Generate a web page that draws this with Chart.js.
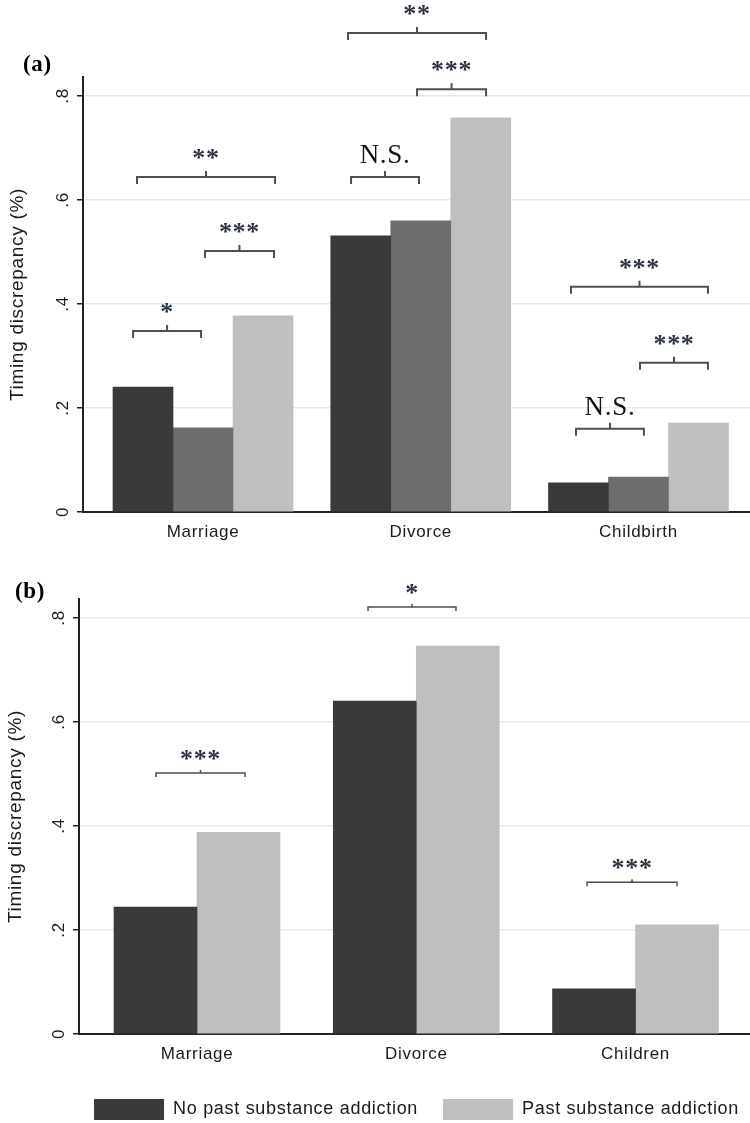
<!DOCTYPE html>
<html>
<head>
<meta charset="utf-8">
<script src="https://cdn.jsdelivr.net/npm/chart.js@4.4.0/dist/chart.umd.min.js"></script>
<style>
  html, body { margin: 0; padding: 0; background: #fff; overflow: hidden; }
  canvas { display: block; }
</style>
</head>
<body>
<canvas id="chartA" width="750" height="560"></canvas>
<canvas id="chartB" width="750" height="570"></canvas>
<script>
// panel (a)
const categoriesA = ["Marriage", "Divorce", "Childbirth"];
const noPastA = [0.240, 0.531, 0.056];
const middleA = [0.162, 0.560, 0.067];
const pastA = [0.377, 0.758, 0.171];

// panel (b)
const categoriesB = ["Marriage", "Divorce", "Children"];
const noPastB = [0.244, 0.640, 0.087];
const pastB = [0.388, 0.746, 0.210];

const yTicks = [0, 0.2, 0.4, 0.6, 0.8];
const yTickLabels = ["0", ".2", ".4", ".6", ".8"];

// significance brackets: [from, to, height, label] in axis units
const bracketsA = [
    [-0.321, -0.009, 0.348, "*"],
    [0.009, 0.326, 0.502, "***"],
    [-0.303, 0.331, 0.644, "**"],
    [0.680, 0.992, 0.644, "N.S."],
    [0.983, 1.300, 0.813, "***"],
    [0.666, 1.300, 0.921, "**"],
    [1.690, 2.319, 0.433, "***"],
    [2.007, 2.319, 0.287, "***"],
    [1.713, 2.025, 0.160, "N.S."]
];
const bracketsB = [
    [-0.187, 0.219, 0.502, "***"],
    [0.780, 1.181, 0.821, "*"],
    [1.779, 2.189, 0.292, "***"]
];

const DARK = "#3a3a3a";
const MID = "#6e6e6e";
const LIGHT = "#bfbfbf";
const TEXT = "#1a1a1a";
const sans = "Liberation Sans";
const serif = "Liberation Serif";

// Stata-ish text is a bit wider than plain Arial
const spacingPlugin = {
    id: "spacing",
    beforeUpdate(chart) {
        chart.ctx.letterSpacing = "0.7px";
    }
};

function toPoints(values) {
    return values.map((v, i) => ({ x: i, y: v }));
}

// rotated y tick labels, brackets with stars and the panel letter
function makeOverlay(panelLabel, brackets, style) {
    return {
        id: "overlay",
        afterDraw(chart) {
            const ctx = chart.ctx;
            const xs = chart.scales.x;
            const ys = chart.scales.y;
            ctx.save();

            ctx.font = `17px "${sans}"`;
            ctx.fillStyle = TEXT;
            ctx.textAlign = "center";
            ctx.textBaseline = "alphabetic";
            ys.ticks.forEach((t, i) => {
                ctx.save();
                ctx.translate(chart.chartArea.left - 15, ys.getPixelForValue(t.value));
                ctx.rotate(-Math.PI / 2);
                ctx.fillText(yTickLabels[i], 0, 0);
                ctx.restore();
            });

            brackets.forEach(b => {
                const x1 = xs.getPixelForValue(b[0]);
                const x2 = xs.getPixelForValue(b[1]);
                const py = ys.getPixelForValue(b[2]);
                const cx = (x1 + x2) / 2;
                ctx.strokeStyle = "#4f4f4f";
                ctx.lineWidth = style.lw;
                ctx.beginPath();
                ctx.moveTo(x1, py + style.drop);
                ctx.lineTo(x1, py);
                ctx.lineTo(x2, py);
                ctx.lineTo(x2, py + style.drop);
                ctx.moveTo(cx, py);
                ctx.lineTo(cx, py - style.tick);
                ctx.stroke();

                if (b[3] === "N.S.") {
                    ctx.font = `27px "${serif}"`;
                    ctx.fillStyle = "#111";
                    ctx.fillText(b[3], cx, py - 14);
                } else {
                    ctx.font = `bold 26px "${serif}"`;
                    ctx.fillStyle = "#2b3242";
                    const m = ctx.measureText("*");
                    const center = py - style.starGap;
                    const base = center + (m.actualBoundingBoxAscent - m.actualBoundingBoxDescent) / 2;
                    ctx.fillText(b[3], cx, base);
                }
            });

            ctx.font = `bold 23px "${serif}"`;
            ctx.fillStyle = "#000";
            ctx.textAlign = "left";
            ctx.fillText(panelLabel, style.labelX, style.labelY);
            ctx.restore();
        }
    };
}

function makeScales(categories, xMin, xMax, axisWidth, xAxisHeight, titlePad) {
    return {
        x: {
            type: "linear",
            min: xMin,
            max: xMax,
            offset: false,
            afterBuildTicks: s => { s.ticks = categories.map((c, i) => ({ value: i })); },
            afterFit: s => { s.height = xAxisHeight; },
            ticks: {
                callback: v => categories[v],
                color: TEXT,
                font: { family: sans, size: 17 },
                padding: 10,
                maxRotation: 0,
                autoSkip: false
            },
            grid: { display: false, drawTicks: false, offset: false },
            border: { color: "#222", width: 2 }
        },
        y: {
            min: 0,
            max: 0.8365,
            afterBuildTicks: s => { s.ticks = yTicks.map(v => ({ value: v })); },
            afterFit: s => { s.width = axisWidth; },
            ticks: { display: false },
            grid: {
                color: "#e0eded",
                lineWidth: 1.5,
                drawTicks: true,
                tickLength: 6,
                tickColor: "#222",
                tickWidth: 1.5
            },
            border: { color: "#222", width: 2 },
            title: {
                display: true,
                text: "Timing discrepancy (%)",
                color: TEXT,
                font: { family: sans, size: 19 },
                padding: { top: titlePad, bottom: 0 }
            }
        }
    };
}

const chartA = new Chart(document.getElementById("chartA"), {
    type: "bar",
    data: {
        datasets: [
            { label: "No past substance addiction", data: toPoints(noPastA), backgroundColor: DARK },
            { label: "Series 2", data: toPoints(middleA), backgroundColor: MID },
            { label: "Past substance addiction", data: toPoints(pastA), backgroundColor: LIGHT }
        ]
    },
    options: {
        responsive: false,
        animation: false,
        datasets: { bar: { barThickness: 60, borderWidth: 0 } },
        layout: { padding: { top: 77, left: 0, right: 0, bottom: 0 } },
        scales: makeScales(categoriesA, -0.5511, 2.5121, 83, 48, 6),
        plugins: { legend: { display: false }, tooltip: { enabled: false } }
    },
    plugins: [spacingPlugin, makeOverlay("(a)", bracketsA, { lw: 2, drop: 7, tick: 6, starGap: 23, labelX: 23, labelY: 71 })]
});

const chartB = new Chart(document.getElementById("chartB"), {
    type: "bar",
    data: {
        datasets: [
            { label: "No past substance addiction", data: toPoints(noPastB), backgroundColor: DARK },
            { label: "Past substance addiction", data: toPoints(pastB), backgroundColor: LIGHT }
        ]
    },
    options: {
        responsive: false,
        animation: false,
        datasets: { bar: { barThickness: 83, borderWidth: 0 } },
        layout: { padding: { top: 39, left: 0, right: -14, bottom: 0 } },
        scales: makeScales(categoriesB, -0.5382, 2.522, 79, 40, 4),
        plugins: {
            legend: {
                display: true,
                position: "bottom",
                align: "end",
                labels: {
                    boxWidth: 70,
                    boxHeight: 21,
                    padding: 25,
                    color: TEXT,
                    font: { family: sans, size: 18 }
                }
            },
            tooltip: { enabled: false }
        }
    },
    plugins: [spacingPlugin, makeOverlay("(b)", bracketsB, { lw: 1.5, drop: 4, tick: 3, starGap: 18, labelX: 15, labelY: 38 })]
});
</script>
</body>
</html>
